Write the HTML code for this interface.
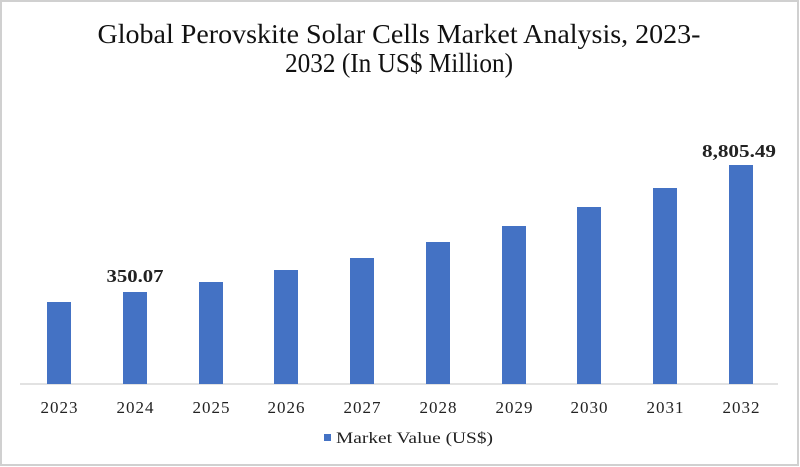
<!DOCTYPE html>
<html><head><style>body{margin:0;background:#fff}svg{display:block}</style></head><body>
<svg width="800" height="467" xmlns="http://www.w3.org/2000/svg" font-family="Liberation Serif, serif">
<rect x="1" y="1" width="797" height="464" fill="#fff" stroke="#d0d0d0" stroke-width="2"/>
<text x="399" y="43" font-size="27" text-anchor="middle" textLength="603" lengthAdjust="spacingAndGlyphs" fill="#111">Global Perovskite Solar Cells Market Analysis, 2023-</text>
<text x="399" y="72" font-size="27" text-anchor="middle" textLength="228" lengthAdjust="spacingAndGlyphs" fill="#111">2032 (In US$ Million)</text>
<line x1="20" y1="384" x2="778" y2="384" stroke="#d9d9d9" stroke-width="1.5"/>
<g fill="#4472C4">
<rect x="47" y="302" width="24" height="82"/>
<rect x="123" y="292" width="24" height="92"/>
<rect x="199" y="282" width="24" height="102"/>
<rect x="274" y="270" width="24" height="114"/>
<rect x="350" y="258" width="24" height="126"/>
<rect x="426" y="242" width="24" height="142"/>
<rect x="502" y="226" width="24" height="158"/>
<rect x="577" y="207" width="24" height="177"/>
<rect x="653" y="188" width="24" height="196"/>
<rect x="729" y="165" width="24" height="219"/>
</g>
<g font-size="17" text-anchor="middle" fill="#222" lengthAdjust="spacingAndGlyphs">
<text x="59" y="413" textLength="37">2023</text><text x="135" y="413" textLength="37">2024</text><text x="211" y="413" textLength="37">2025</text><text x="286" y="413" textLength="37">2026</text><text x="362" y="413" textLength="37">2027</text><text x="438" y="413" textLength="37">2028</text><text x="514" y="413" textLength="37">2029</text><text x="589" y="413" textLength="37">2030</text><text x="665" y="413" textLength="37">2031</text><text x="741" y="413" textLength="37">2032</text>
</g>
<g font-size="18" font-weight="bold" text-anchor="middle" fill="#222">
<text x="135" y="282" textLength="57" lengthAdjust="spacingAndGlyphs">350.07</text>
<text x="739" y="157" textLength="74" lengthAdjust="spacingAndGlyphs">8,805.49</text>
</g>
<rect x="324" y="434" width="7" height="7" fill="#4472C4"/>
<text x="336" y="443" font-size="16" fill="#222" textLength="157" lengthAdjust="spacingAndGlyphs">Market Value (US$)</text>
</svg>
</body></html>
